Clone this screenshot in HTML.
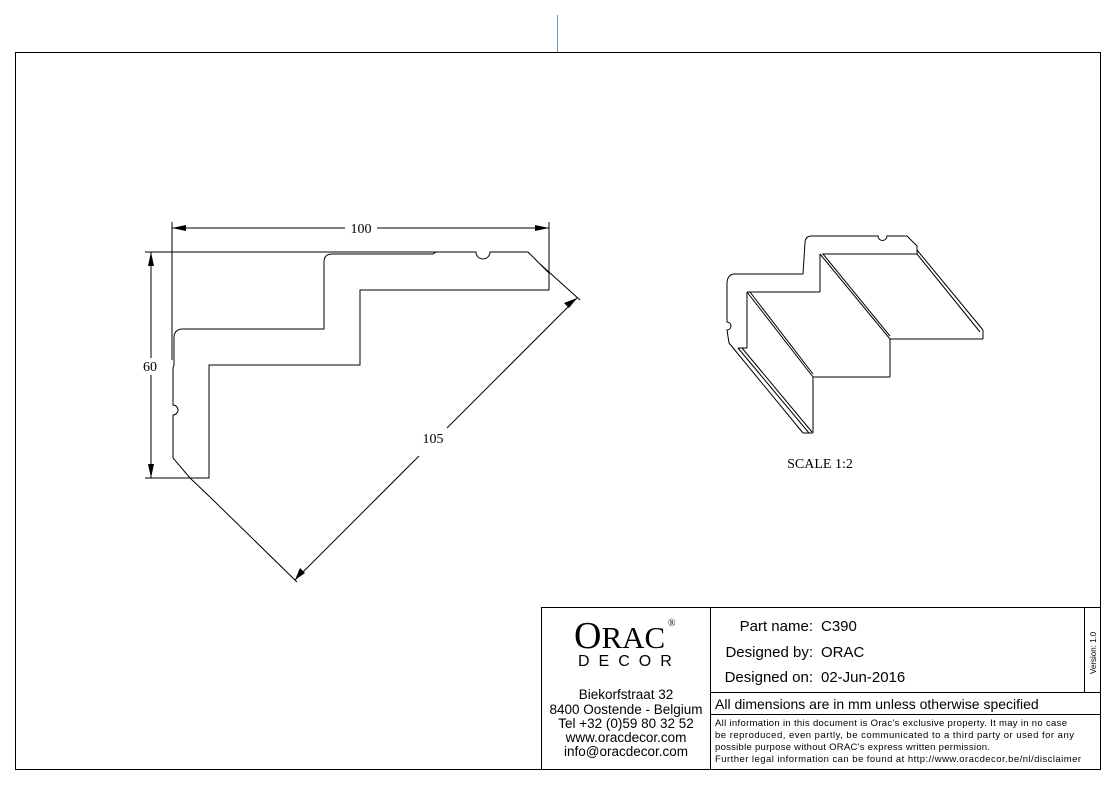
<!DOCTYPE html>
<html><head><meta charset="utf-8"><style>
body{margin:0;background:#fff;width:1117px;height:787px;overflow:hidden}
svg{display:block}
text{font-family:"Liberation Serif",serif;fill:#000}
.s{font-family:"Liberation Sans","DejaVu Sans",sans-serif}
</style></head><body>
<svg width="1117" height="787" viewBox="0 0 1117 787" xmlns="http://www.w3.org/2000/svg">
<line x1="557.5" y1="15" x2="557.5" y2="52" stroke="#5b9bd5" stroke-width="1"/>
<rect x="15.5" y="52.5" width="1085" height="717" fill="none" stroke="#000" stroke-width="1"/>
<g fill="none" stroke="#000" stroke-width="1">
<path d="M173,458 L173,415 A4,4 0 0 0 173,405 L173,368 L174,365 L174,338 Q174,329 183,329 L324,329 L324,262 Q324,254 332,254 L433,254 L436,252 L476,252 A7,7 0 0 0 490,252 L528,252 L549,273 L549,290 L360,290 L360,365 L209,365 L209,478 L190,478 Z"/>
<line x1="145" y1="252" x2="436" y2="252"/>
<line x1="145" y1="478" x2="209" y2="478"/>
<line x1="172" y1="222" x2="172" y2="360"/>
<line x1="549" y1="222" x2="549" y2="290"/>
<line x1="540" y1="264" x2="580" y2="300"/>
<line x1="190" y1="478" x2="210" y2="497"/>
<line x1="172" y1="228" x2="345" y2="228"/><line x1="377" y1="228" x2="549" y2="228"/>
<line x1="151" y1="252" x2="151" y2="358"/><line x1="151" y1="375" x2="151" y2="478"/>
<line x1="577" y1="298" x2="447" y2="428"/><line x1="419" y1="456" x2="295" y2="580"/>
<line x1="210" y1="497" x2="297" y2="582"/>
</g>
<g fill="#000">
<polygon points="172,228 186,225 186,231"/><polygon points="549,228 535,225 535,231"/>
<polygon points="151,252 148,266 154,266"/><polygon points="151,478 148,464 154,464"/>
<polygon points="577,298 564,303 569,308"/><polygon points="295,580 300,568 305,573"/>
</g>
<text x="361" y="233" font-size="14" text-anchor="middle">100</text>
<text x="150" y="371" font-size="14" text-anchor="middle">60</text>
<text x="433" y="443" font-size="14" text-anchor="middle">105</text>
<g fill="none" stroke="#000" stroke-width="1">
<path d="M729,343 L727,330 A3,3 0 0 0 727,322 L727,284 Q727,274 735,274 L803,274 L805,243 Q805,236 812,236 L878,236 A4,4 0 0 0 887,236 L907,236 L917,246 L917,254"/>
<line x1="822" y1="254" x2="917" y2="254"/>
<line x1="890" y1="339" x2="983" y2="339"/>
<line x1="820" y1="254" x2="890" y2="339"/><line x1="823" y1="254" x2="890" y2="336"/>
<line x1="917" y1="250" x2="983" y2="330"/><line x1="917" y1="254" x2="980" y2="332"/>
<line x1="983" y1="330" x2="983" y2="339"/>
<line x1="890" y1="339" x2="890" y2="377"/>
<line x1="813" y1="377" x2="890" y2="377"/>
<line x1="747" y1="292" x2="820" y2="292"/>
<line x1="820" y1="254" x2="820" y2="292"/>
<line x1="747" y1="292" x2="813" y2="377"/><line x1="750" y1="292" x2="813" y2="374"/>
<line x1="813" y1="377" x2="813" y2="433"/>
<line x1="747" y1="292" x2="747" y2="348"/>
<line x1="729" y1="343" x2="803" y2="433"/><line x1="738" y1="348" x2="809" y2="433"/><line x1="742" y1="348" x2="812" y2="432"/>
<line x1="738" y1="348" x2="747" y2="348"/>
<line x1="803" y1="433" x2="813" y2="433"/>
</g>
<text x="820" y="468" font-size="14" text-anchor="middle">SCALE  1:2</text>
<g fill="none" stroke="#000" stroke-width="1">
<rect x="541.5" y="607.5" width="559" height="162"/>
<line x1="710.5" y1="607" x2="710.5" y2="770"/>
<line x1="1084.5" y1="607" x2="1084.5" y2="692"/>
<line x1="710" y1="692.5" x2="1100" y2="692.5"/>
<line x1="710" y1="714.5" x2="1100" y2="714.5"/>
</g>
<text x="574" y="648" font-size="38">O<tspan font-size="31">RAC</tspan></text>
<text x="668" y="626" font-size="10">®</text>
<text x="578" y="666" font-size="16" class="s" letter-spacing="9">DECOR</text>
<g font-size="13.5" text-anchor="middle">
<text x="626" y="699" class="s">Biekorfstraat 32</text>
<text x="626" y="714" class="s">8400 Oostende - Belgium</text>
<text x="626" y="728" class="s">Tel  +32 (0)59 80 32 52</text>
<text x="626" y="742" class="s">www.oracdecor.com</text>
<text x="626" y="756" class="s">info@oracdecor.com</text>
</g>
<g font-size="15">
<text x="813" y="631" text-anchor="end" class="s">Part name:</text><text x="821" y="631" class="s">C390</text>
<text x="813" y="657" text-anchor="end" class="s">Designed by:</text><text x="821" y="657" class="s">ORAC</text>
<text x="813" y="682" text-anchor="end" class="s">Designed on:</text><text x="821" y="682" class="s">02-Jun-2016</text>
</g>
<text x="715" y="709" font-size="14" class="s">All dimensions are in mm unless otherwise specified</text>
<g font-size="9.5">
<text x="715" y="726" class="s" textLength="352">All information in this document is Orac's exclusive property.  It may in no case</text>
<text x="715" y="738" class="s" textLength="359">be reproduced, even partly, be communicated to a third party or used for any</text>
<text x="715" y="750" class="s" textLength="275">possible purpose without ORAC's express written permission.</text>
<text x="715" y="762" class="s" textLength="366">Further legal information can be found at http://www.oracdecor.be/nl/disclaimer</text>
</g>
<text transform="translate(1096,674) rotate(-90)" font-size="8" class="s">Version: 1.0</text>
</svg>
</body></html>
